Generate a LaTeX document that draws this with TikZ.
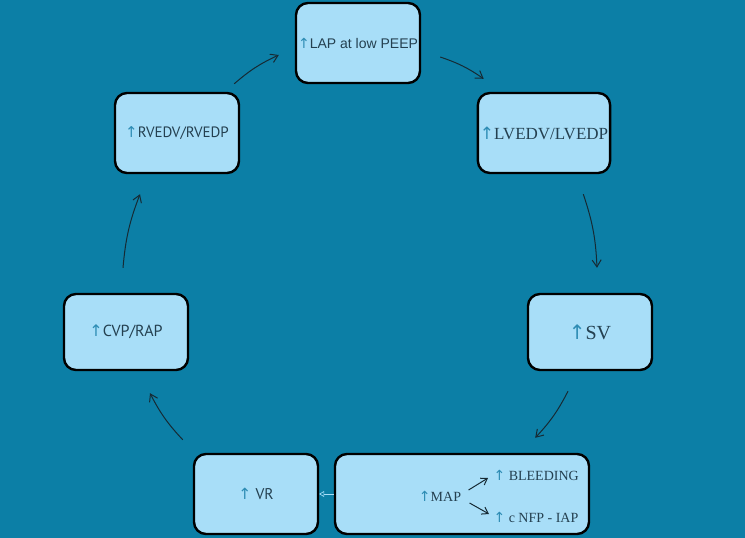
\documentclass[tikz,border=0pt]{standalone}
\usepackage{fontspec}
\setmainfont{Liberation Serif}
\newfontfamily\lapfont{Liberation Sans}
\newfontfamily\narrowfont{PT Sans}
\newfontfamily\arrowfont{DejaVu Sans}
\usetikzlibrary{arrows.meta}
\definecolor{bgblue}{RGB}{12,127,166}
\definecolor{boxblue}{RGB}{168,222,248}
\definecolor{textslate}{RGB}{36,64,80}
\definecolor{uparr}{RGB}{45,140,180}
\definecolor{linedark}{RGB}{22,42,52}
\newcommand{\incr}{{\arrowfont\color{uparr}↑}}

\begin{document}
\begin{tikzpicture}[x=1pt,y=-1pt,
   stage/.style={draw=black,fill=boxblue,line width=2.4pt,rounded corners=12pt,
      text=textslate,minimum width=124pt,minimum height=80pt,inner sep=2pt},
   flow/.style={draw=linedark,line width=1pt,-{Straight Barb[length=7pt,width=9pt]},bend left=8},
   >={Straight Barb[length=6pt,width=8pt]}]
   \fill[bgblue] (0,0) rectangle (745,538);
   \useasboundingbox (0,0) rectangle (745,538);
   \node[stage] (lap) at (358,43) {\lapfont\fontsize{14}{16}\selectfont\incr LAP at low PEEP};
   \node[stage] (rv) at (177,133) {\narrowfont\fontsize{15}{17}\selectfont\incr RVEDV/RVEDP};
   \node[stage] (lv) at (544,133) {\fontsize{17}{19}\selectfont\incr LVEDV/LVEDP};
   \node[stage,minimum height=76pt] (cvp) at (126,332) {\narrowfont\fontsize{16}{18}\selectfont\incr CVP/RAP};
   \node[stage,minimum height=76pt] (sv) at (590,332) {\fontsize{20}{22}\selectfont\incr SV};
   \node[stage] (vr) at (256,494) {\narrowfont\fontsize{15.5}{17}\selectfont\incr\ VR};
   \node[stage,minimum width=254pt] (map) at (462,494) {};
   \node[text=textslate,font=\fontsize{14}{16}\selectfont] (mapt) at (440,496) {\incr MAP};
   \node[text=textslate,font=\fontsize{14}{16}\selectfont,anchor=west] (bleed) at (490,475) {\incr\ BLEEDING};
   \node[text=textslate,font=\fontsize{14}{16}\selectfont,anchor=west] (nfp) at (490,517) {\incr\ c NFP - IAP};
   \draw[linedark,line width=1pt,->] (mapt.east) ++(4,-6) -- ([shift={(-2,3)}]bleed.west);
   \draw[linedark,line width=1pt,->] ([shift={(5,7)}]mapt.east) -- ([shift={(-1,-3)}]nfp.west);
   \draw[flow] ([shift={(-6,-8)}]rv.north east) to ([shift={(-16,12)}]lap.west);
   \draw[flow] ([shift={(19,14)}]lap.east) to ([shift={(7,-13)}]lv.north west);
   \draw[flow] ([shift={(-28,20)}]lv.south east) to ([shift={(7,-25)}]sv.north);
   \draw[flow] ([shift={(-22,20)}]sv.south) to ([shift={(-55,-15)}]map.north east);
   \draw[draw=boxblue,line width=0.6pt,-{Triangle[open,length=5pt,width=6pt]}] (map.west) -- (vr.east);
   \draw[flow] ([shift={(-10,-13)}]vr.north west) to ([shift={(24,22)}]cvp.south);
   \draw[flow] ([shift={(-3,-25)}]cvp.north) to ([shift={(-37,20)}]rv.south);
\end{tikzpicture}
\end{document}
